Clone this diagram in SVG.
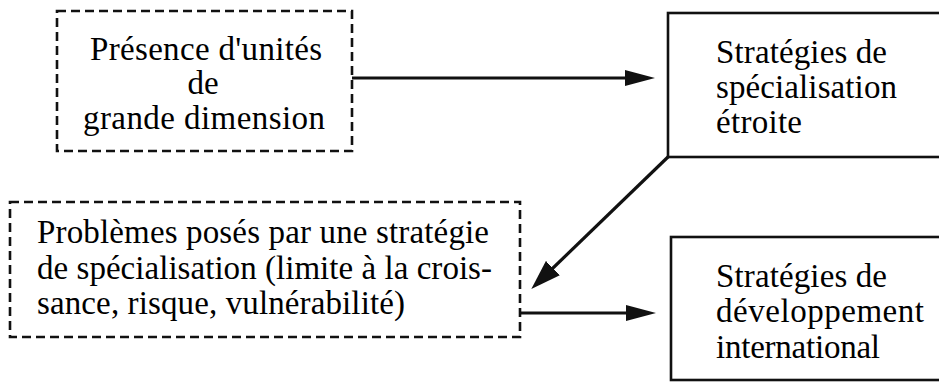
<svg xmlns="http://www.w3.org/2000/svg" width="939" height="383" viewBox="0 0 939 383">
  <style>
    .dashed { fill: #fff; stroke: #111; stroke-width: 2.6; stroke-dasharray: 9 5; }
    .solid { fill: #fff; stroke: #111; stroke-width: 2.6; }
    .label { font-size: 33px; fill: #000; }
    .conn { stroke: #111; stroke-width: 3.2; fill: none; }
  </style>
  <defs>
    <marker id="arrow" viewBox="0 0 30 16" refX="20" refY="8" markerWidth="30" markerHeight="16" markerUnits="userSpaceOnUse" orient="auto">
      <path d="M0,0 L30,8 L0,16 z" fill="#111"/>
    </marker>
    <marker id="arrow-wide" viewBox="0 0 30 20" refX="20" refY="10" markerWidth="30" markerHeight="20" markerUnits="userSpaceOnUse" orient="auto">
      <path d="M0,0 L30,10 L0,20 z" fill="#111"/>
    </marker>
  </defs>
  <rect width="939" height="383" fill="#fff"/>

  <g id="connectors">
    <line class="conn" x1="352" y1="78" x2="645" y2="78" marker-end="url(#arrow)"/>
    <line class="conn" x1="669" y1="156" x2="538.5" y2="282" marker-end="url(#arrow-wide)"/>
    <line class="conn" x1="520" y1="313" x2="646" y2="313" marker-end="url(#arrow)"/>
  </g>

  <g font-family="'Liberation Serif', 'DejaVu Serif', serif">
    <g id="presence-unites">
      <rect class="dashed" x="57" y="11" width="295" height="140"/>
      <text class="label" x="206" y="60" text-anchor="middle" textLength="232" lengthAdjust="spacing">Présence d'unités</text>
      <text class="label" x="203" y="94" text-anchor="middle">de</text>
      <text class="label" x="204" y="129" text-anchor="middle" textLength="242" lengthAdjust="spacing">grande dimension</text>
    </g>

    <g id="specialisation-etroite">
      <rect class="solid" x="668" y="13" width="300" height="144"/>
      <text class="label" x="716" y="63" textLength="171" lengthAdjust="spacing">Stratégies de</text>
      <text class="label" x="716" y="98" textLength="181" lengthAdjust="spacing">spécialisation</text>
      <text class="label" x="716" y="133" textLength="86" lengthAdjust="spacing">étroite</text>
    </g>

    <g id="problemes-specialisation">
      <rect class="dashed" x="10" y="202" width="510" height="135"/>
      <text class="label" x="37" y="243" textLength="452" lengthAdjust="spacing">Problèmes posés par une stratégie</text>
      <text class="label" x="37" y="279" textLength="455" lengthAdjust="spacing">de spécialisation (limite à la crois-</text>
      <text class="label" x="37" y="314" textLength="368" lengthAdjust="spacing">sance, risque, vulnérabilité)</text>
    </g>

    <g id="developpement-international">
      <rect class="solid" x="671" y="237" width="300" height="143"/>
      <text class="label" x="716" y="287" textLength="171" lengthAdjust="spacing">Stratégies de</text>
      <text class="label" x="716" y="322" textLength="208" lengthAdjust="spacing">développement</text>
      <text class="label" x="716" y="358" textLength="164" lengthAdjust="spacing">international</text>
    </g>
  </g>
</svg>
